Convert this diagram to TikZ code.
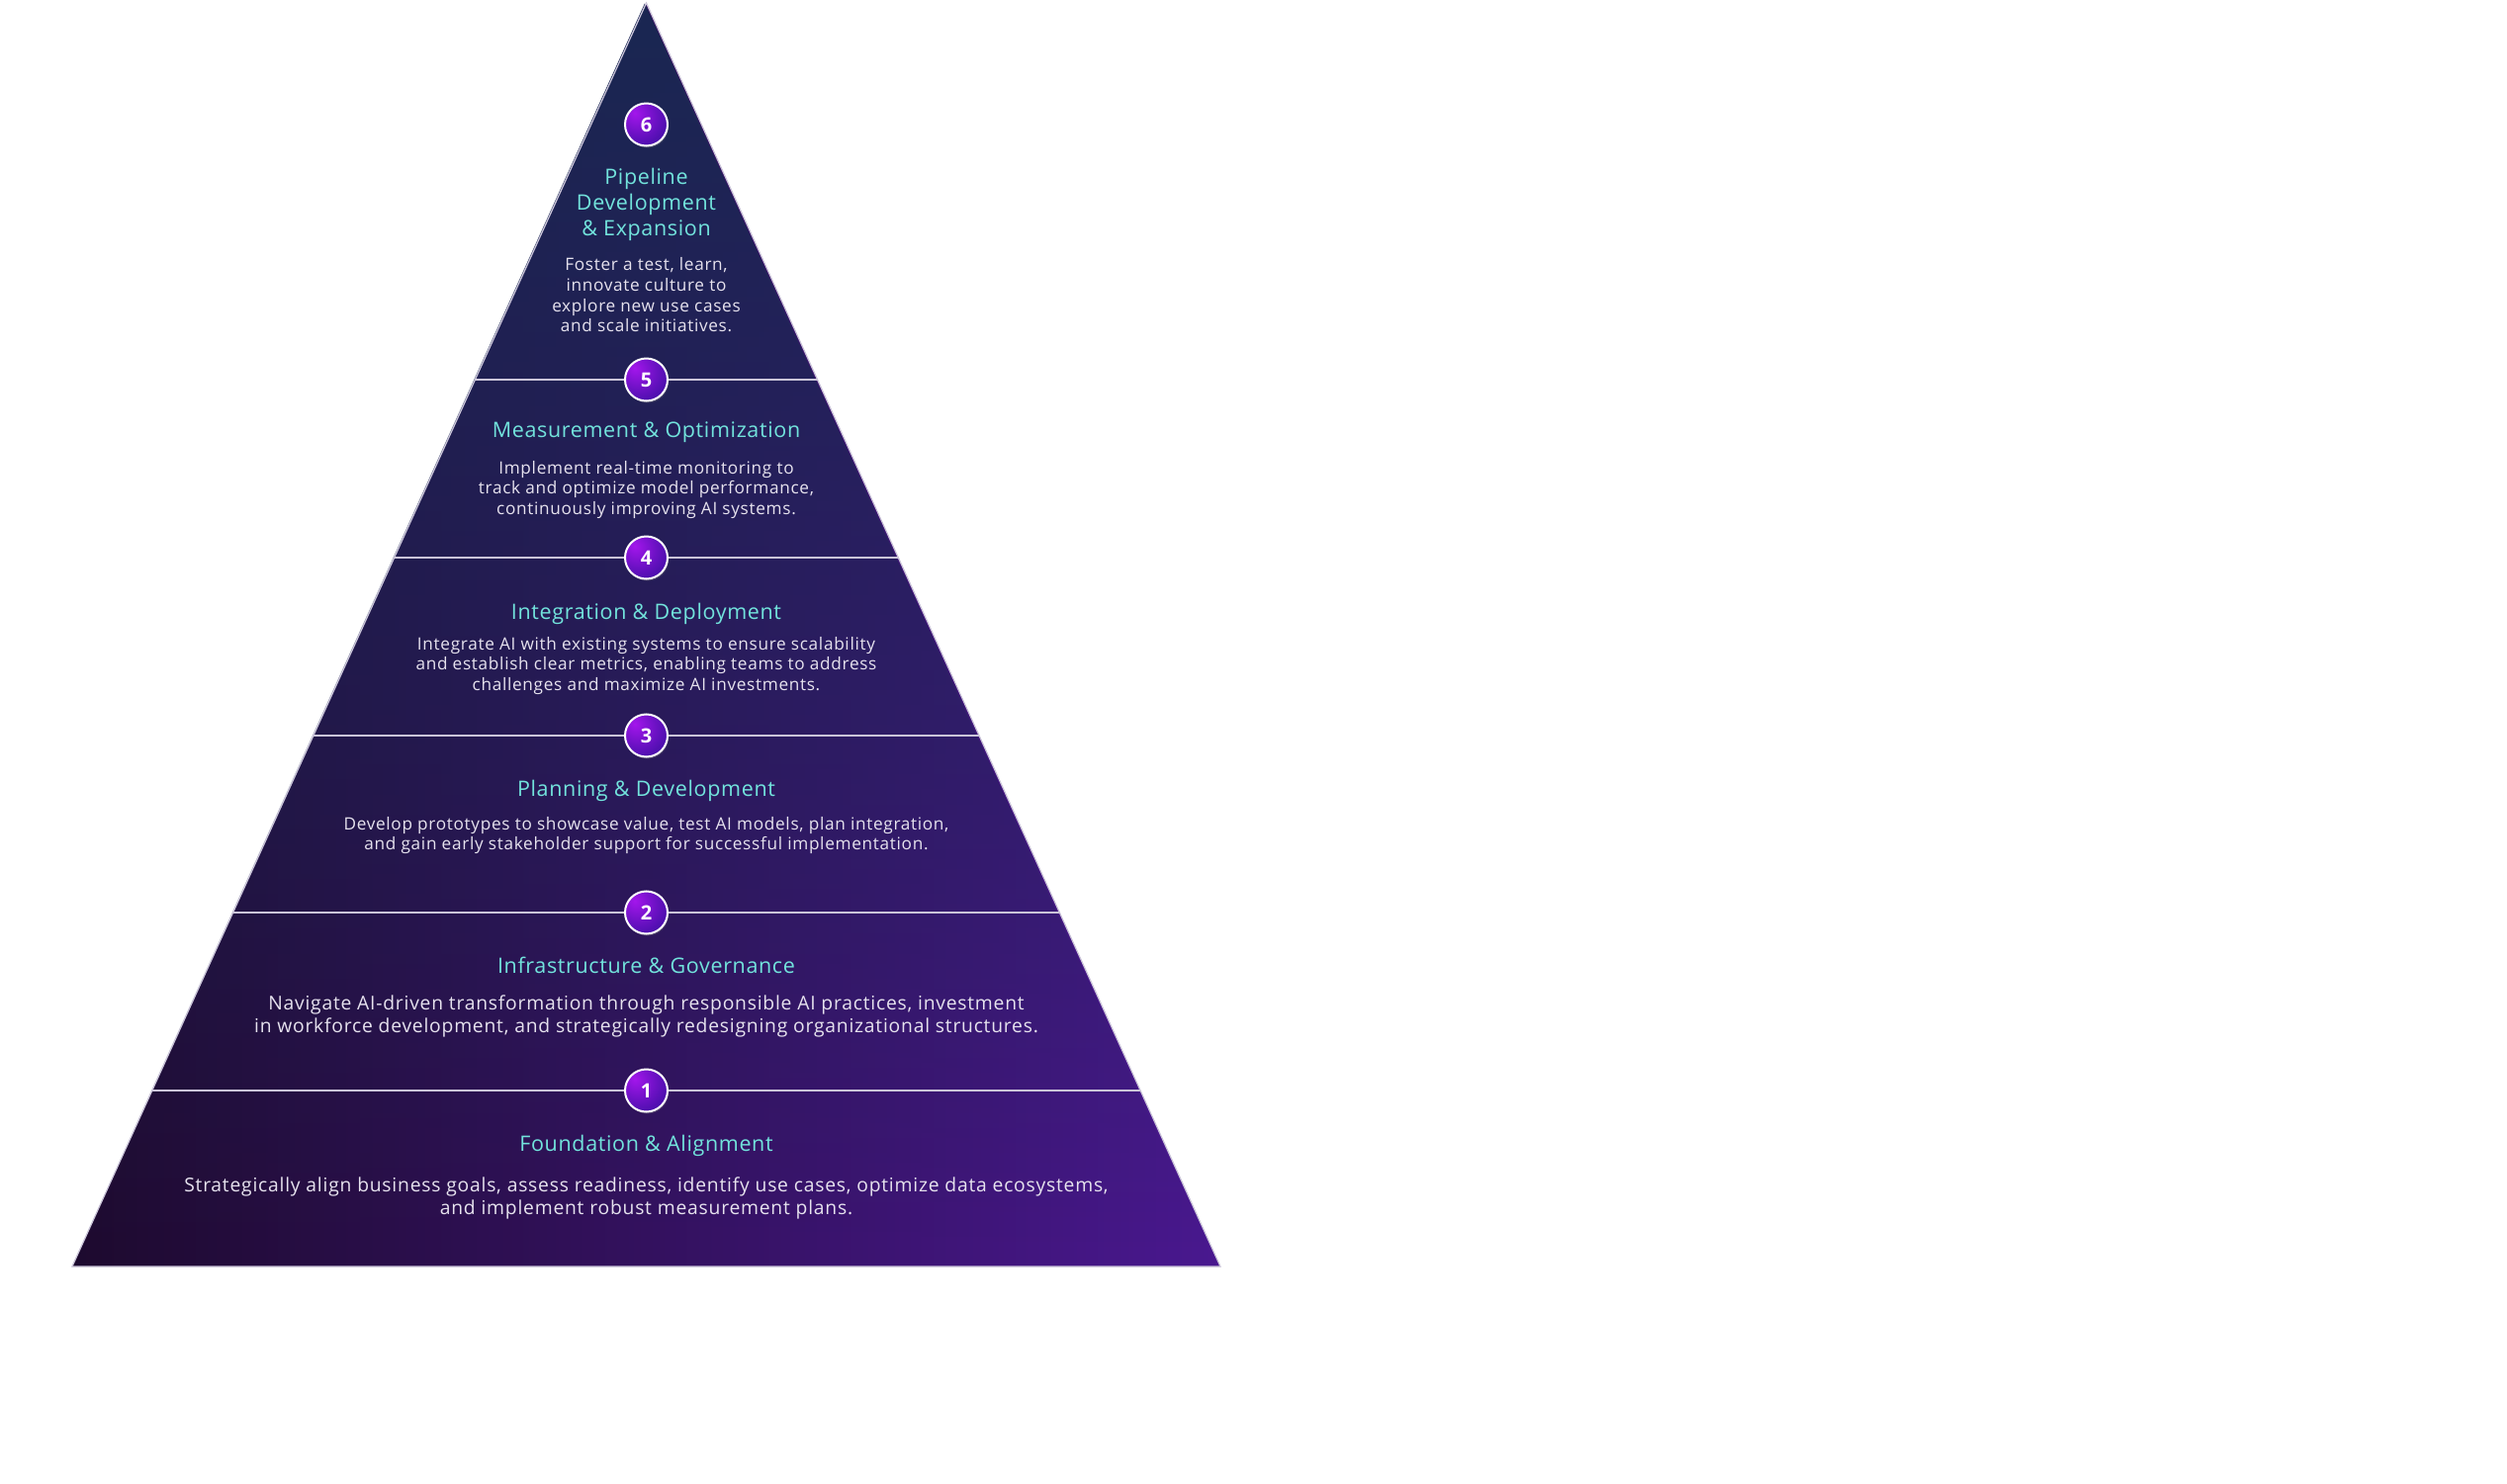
\documentclass[tikz,border=0pt]{standalone}
\usepackage{fontspec}
\setmainfont{Open Sans}
\newfontfamily\spacedfont[LetterSpace=4]{Open Sans}
\newfontfamily\titlefont[LetterSpace=3]{Open Sans}
\usetikzlibrary{calc,fadings,shadows}

\definecolor{navytop}{HTML}{1A2752}
\definecolor{plumleft}{HTML}{1E0A2E}
\definecolor{violetright}{HTML}{4A1890}
\definecolor{tealtitle}{HTML}{72E3DC}
\definecolor{bodytext}{HTML}{E6E2EE}
\definecolor{rulegray}{HTML}{CAC4D8}
\definecolor{ballhi}{HTML}{A416EC}
\definecolor{balllo}{HTML}{2E0C98}

\pgfdeclareradialshading{stepball}{\pgfpoint{-14bp}{14bp}}{color(0bp)=(ballhi); color(45bp)=(balllo); color(75bp)=(balllo)}
\tikzfading[name=navyfade, top color=transparent!0, middle color=transparent!55, bottom color=transparent!100]

\begin{document}
\begin{tikzpicture}[x=1pt,y=-1pt,
  steptitle/.style={text=tealtitle, align=center, inner sep=0pt, font=\titlefont\fontsize{21.5}{26}\selectfont},
  stepsmall/.style={text=bodytext, align=center, inner sep=0pt, font=\spacedfont\fontsize{17.2}{20.7}\selectfont},
  steplarge/.style={text=bodytext, align=center, inner sep=0pt, font=\spacedfont\fontsize{19.3}{23}\selectfont},
  stepnum/.style={circle, draw=white, line width=2pt, shading=stepball, minimum size=43pt, inner sep=0pt,
    text=white, font=\bfseries\fontsize{20}{20}\selectfont, drop shadow={opacity=0.35, shadow xshift=1pt, shadow yshift=-2pt}},
  divider/.style={draw=rulegray, line width=2pt}]
\useasboundingbox (0,0) rectangle (2535,1500);

% pyramid body
\coordinate (apex) at (653.5,3);
\coordinate (bl) at (73,1281);
\coordinate (br) at (1234,1281);
\shade[left color=plumleft, right color=violetright] (apex) -- (br) -- (bl) -- cycle;
\fill[navytop, path fading=navyfade] (apex) -- (br) -- (bl) -- cycle;
\draw[rulegray, line width=1.2pt, line join=miter] (apex) -- (br) -- (bl) -- cycle;

% dividers
\coordinate (l5) at ($(apex)!0.29812!(bl)$);
\coordinate (r5) at ($(apex)!0.29812!(br)$);
\coordinate (l4) at ($(apex)!0.43897!(bl)$);
\coordinate (r4) at ($(apex)!0.43897!(br)$);
\coordinate (l3) at ($(apex)!0.57981!(bl)$);
\coordinate (r3) at ($(apex)!0.57981!(br)$);
\coordinate (l2) at ($(apex)!0.71987!(bl)$);
\coordinate (r2) at ($(apex)!0.71987!(br)$);
\coordinate (l1) at ($(apex)!0.86072!(bl)$);
\coordinate (r1) at ($(apex)!0.86072!(br)$);
\draw[divider] (l5) -- (r5);
\draw[divider] (l4) -- (r4);
\draw[divider] (l3) -- (r3);
\draw[divider] (l2) -- (r2);
\draw[divider] (l1) -- (r1);

% numbers
\node[stepnum] (n6) at (653.5,126) {6};
\node[stepnum] (n5) at ($(l5)!0.5!(r5)$) {5};
\node[stepnum] (n4) at ($(l4)!0.5!(r4)$) {4};
\node[stepnum] (n3) at ($(l3)!0.5!(r3)$) {3};
\node[stepnum] (n2) at ($(l2)!0.5!(r2)$) {2};
\node[stepnum] (n1) at ($(l1)!0.5!(r1)$) {1};

% level 6
\node[steptitle] (t6) at (653.5,207) {Pipeline\\Development\\\& Expansion};
\node[stepsmall] (b6) at (653.5,298.5) {Foster a test, learn,\\innovate culture to\\explore new use cases\\and scale initiatives.};
% level 5
\node[steptitle] (t5) at (653.5,437) {Measurement \& Optimization};
\node[stepsmall] (b5) at (653.5,495.5) {Implement real-time monitoring to\\track and optimize model performance,\\continuously improving AI systems.};
% level 4
\node[steptitle] (t4) at (653.5,621) {Integration \& Deployment};
\node[stepsmall] (b4) at (653.5,673.5) {Integrate AI with existing systems to ensure scalability\\and establish clear metrics, enabling teams to address\\challenges and maximize AI investments.};
% level 3
\node[steptitle] (t3) at (653.5,800) {Planning \& Development};
\node[stepsmall] (b3) at (653.5,845) {Develop prototypes to showcase value, test AI models, plan integration,\\and gain early stakeholder support for successful implementation.};
% level 2
\node[steptitle] (t2) at (653.5,976) {Infrastructure \& Governance};
\node[steplarge] (b2) at (653.5,1028) {Navigate AI-driven transformation through responsible AI practices, investment\\in workforce development, and strategically redesigning organizational structures.};
% level 1
\node[steptitle] (t1) at (653.5,1159) {Foundation \& Alignment};
\node[steplarge] (b1) at (653.5,1212) {Strategically align business goals, assess readiness, identify use cases, optimize data ecosystems,\\and implement robust measurement plans.};
\end{tikzpicture}
\end{document}
